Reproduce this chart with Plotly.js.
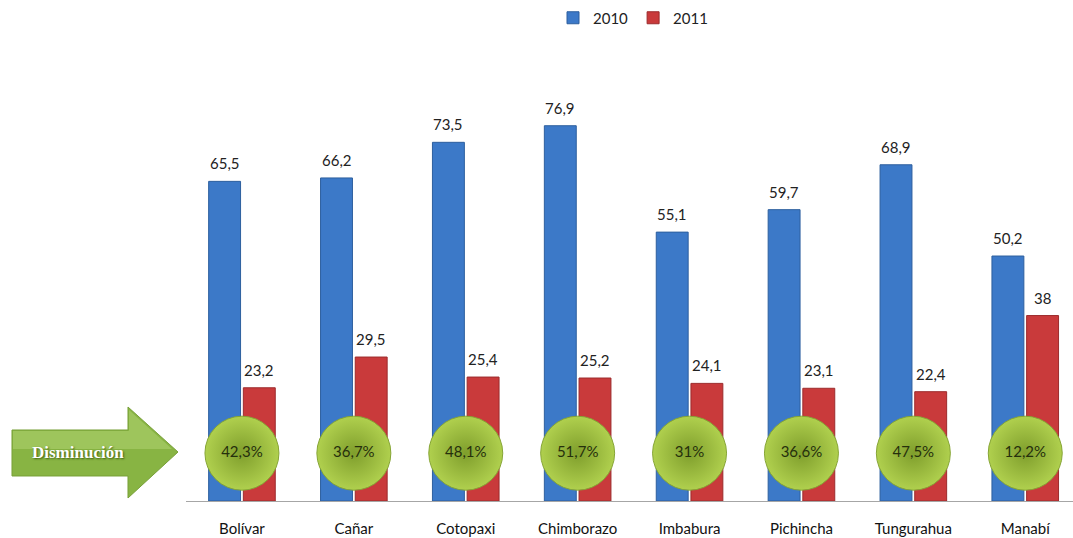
<!DOCTYPE html>
<html><head><meta charset="utf-8">
<script src="https://cdn.plot.ly/plotly-3.0.1.min.js"></script>
<style>html,body{margin:0;padding:0;background:#fff;}#chart{width:1073px;height:538px;}</style>
</head><body><div id="chart"></div>
<script>
const categories = ["Bolívar","Cañar","Cotopaxi","Chimborazo","Imbabura","Pichincha","Tungurahua","Manabí"];
const values2010 = [65.5, 66.2, 73.5, 76.9, 55.1, 59.7, 68.9, 50.2];
const values2011 = [23.2, 29.5, 25.4, 25.2, 24.1, 23.1, 22.4, 38];
const decrease = [42.3, 36.7, 48.1, 51.7, 31, 36.6, 47.5, 12.2];
const seriesNames = ["2010","2011"];

const W = 1073, H = 538;
const M = {l: 186, r: 0, t: 60, b: 37};
const PW = W - M.l - M.r, PH = H - M.t - M.b;
const CAT_PX = 111.9;
const px = x => (x - M.l) / PW;
const py = y => 1 - (y - M.t) / PH;
const fmt = v => String(v).replace('.', ',');
const BADGE_Y = 9.8;
const BARGAP = 0.38, GROUPGAP = 0.08;
const slot = CAT_PX * (1 - BARGAP) / 2;

const font = "Lato, 'Open Sans', sans-serif";

const traces = [
  {type:'bar', name:seriesNames[0], x:categories, y:values2010,
   marker:{color:'#3c79c8', line:{color:'#2d5f9e', width:1}}},
  {type:'bar', name:seriesNames[1], x:categories, y:values2011,
   marker:{color:'#c93a3b', line:{color:'#9c2b2c', width:1}}},
  {type:'scatter', mode:'markers+text', showlegend:false, hoverinfo:'skip',
   x:categories, y:categories.map(() => BADGE_Y), cliponaxis:false,
   text: decrease.map(v => fmt(v) + '%'), textposition:'middle center',
   textfont:{family:font, size:15, color:'#26300c'},
   marker:{size:74, color:'#b0d04e', gradient:{type:'radial', color:'#7f9e2c'},
           line:{color:'#86a535', width:1}}}
];

const labelAnns = [];
[values2010, values2011].forEach((vals, si) => {
  vals.forEach((v, i) => {
    labelAnns.push({xref:'x', yref:'y', x:categories[i], y:v, xshift:(si === 0 ? -slot/2 : slot/2),
      yshift:7, xanchor:'center', yanchor:'bottom', showarrow:false, text:fmt(v),
      font:{family:font, size:15, color:'#222'}});
  });
});

const toPath = pts => 'M' + pts.map(p => px(p[0]).toFixed(5) + ',' + py(p[1]).toFixed(5)).join(' L') + ' Z';
const arrowPath = toPath([[12,430],[128,430],[128,407],[178,452],[128,498],[128,476],[12,476]]);
const arrowTop = toPath([[13,431],[129,431],[129,410],[172,449],[13,449]]);

const layout = {
  width: W, height: H,
  margin: M,
  paper_bgcolor:'#fff', plot_bgcolor:'#fff',
  barmode:'group', bargap:BARGAP, bargroupgap:GROUPGAP,
  showlegend:true,
  legend:{orientation:'h', x:px(633), xanchor:'center', yref:'container', y:1-18/H, yanchor:'middle',
          font:{family:font, size:15, color:'#222'}, itemwidth:30, traceorder:'normal'},
  xaxis:{range:[-0.5, -0.5 + PW/CAT_PX], showline:true, linecolor:'#a6a6a6', linewidth:1,
         showgrid:false, zeroline:false, ticks:'', ticklabelstandoff:14,
         tickfont:{family:font, size:15, color:'#111'}, fixedrange:true},
  yaxis:{range:[0, PH/4.88], visible:false, showgrid:false, zeroline:false, fixedrange:true},
  shapes:[
    {type:'path', xref:'paper', yref:'paper', path:arrowPath, fillcolor:'#88b443', line:{color:'#78a038', width:1}, layer:'above'},
    {type:'path', xref:'paper', yref:'paper', path:arrowTop, fillcolor:'rgba(200,230,140,0.35)', line:{width:0}, layer:'above'}
  ],
  annotations: labelAnns.concat([
    {xref:'paper', yref:'paper', x:px(78), y:py(452), xanchor:'center', yanchor:'middle', showarrow:false, text:'Disminución',
     font:{family:"'Liberation Serif', 'DejaVu Serif', serif", size:17, color:'#ffffff', weight:'bold', shadow:'1px 1px 2px #3f5f12'}}
  ])
};

Plotly.newPlot('chart', traces, layout, {displayModeBar:false, staticPlot:true});
</script>
</body></html>
